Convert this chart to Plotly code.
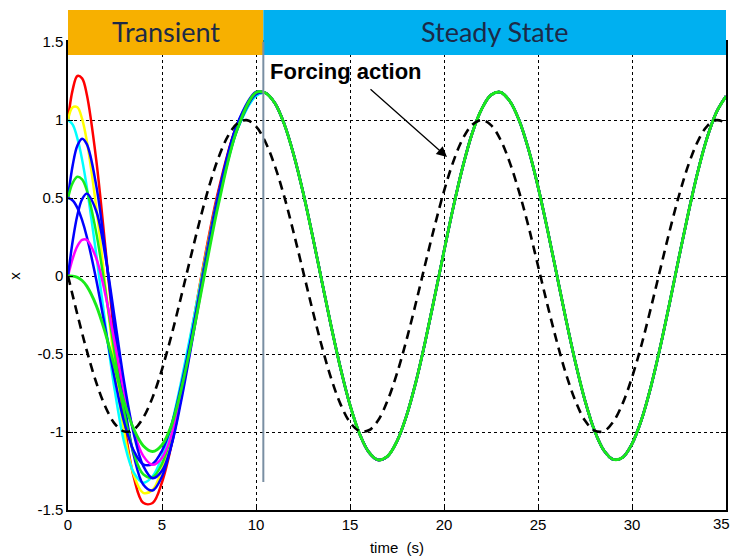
import plotly.graph_objects as go

# ---------------- data ----------------
# transient window, shared time base (s)
T_TR = [0, 0.25, 0.5, 0.75, 1, 1.5, 2, 2.5, 3, 3.5, 4, 4.5, 5, 5.5, 6, 6.5, 7, 7.5, 8, 9, 10]

# responses for different initial conditions (x0, v0)
X_RED     = [1.000, 1.195, 1.282, 1.267, 1.163, 0.746, 0.169, -0.433, -0.949, -1.290, -1.454, -1.455, -1.322, -1.085, -0.762, -0.412, -0.063, 0.261, 0.547, 0.969, 1.158]
X_YELLOW  = [1.000, 1.082, 1.082, 1.007, 0.866, 0.443, -0.076, -0.588, -1.010, -1.276, -1.390, -1.370, -1.239, -1.022, -0.725, -0.400, -0.071, 0.241, 0.523, 0.953, 1.156]
X_CYAN    = [1.000, 0.970, 0.882, 0.746, 0.570, 0.141, -0.321, -0.743, -1.072, -1.261, -1.325, -1.284, -1.157, -0.958, -0.687, -0.388, -0.079, 0.221, 0.498, 0.936, 1.154]
X_BLUE_A  = [0.500, 0.710, 0.836, 0.880, 0.845, 0.581, 0.143, -0.358, -0.820, -1.151, -1.336, -1.375, -1.285, -1.085, -0.788, -0.450, -0.102, 0.230, 0.527, 0.971, 1.169]
X_GREEN_A = [0.500, 0.597, 0.636, 0.619, 0.549, 0.279, -0.102, -0.513, -0.882, -1.136, -1.271, -1.290, -1.203, -1.022, -0.750, -0.438, -0.110, 0.210, 0.503, 0.955, 1.167]
X_BLUE_B  = [0.500, 0.484, 0.437, 0.358, 0.252, -0.023, -0.346, -0.668, -0.944, -1.121, -1.207, -1.204, -1.120, -0.958, -0.713, -0.426, -0.118, 0.190, 0.479, 0.938, 1.165]
X_MAGENTA = [0.000, 0.112, 0.191, 0.231, 0.232, 0.115, -0.127, -0.438, -0.753, -0.997, -1.153, -1.210, -1.166, -1.022, -0.776, -0.475, -0.148, 0.179, 0.483, 0.957, 1.178]
X_BLUE_C  = [0.000, 0.224, 0.391, 0.492, 0.528, 0.417, 0.117, -0.283, -0.691, -1.012, -1.217, -1.296, -1.248, -1.085, -0.813, -0.487, -0.140, 0.199, 0.508, 0.973, 1.180]
X_GREEN_0 = [0.000, -0.001, -0.009, -0.029, -0.065, -0.188, -0.372, -0.593, -0.815, -0.982, -1.088, -1.125, -1.083, -0.958, -0.738, -0.463, -0.156, 0.159, 0.459, 0.940, 1.176]

# steady-state part, common to all responses
T_SS = [10.5, 11, 11.5, 12, 12.5, 13, 13.5, 14, 14.5, 15, 15.5, 16, 16.5, 17, 17.5, 18, 18.5, 19, 19.5, 20,
        20.5, 21, 21.5, 22, 22.5, 23, 23.5, 24, 24.5, 25, 25.5, 26, 26.5, 27, 27.5, 28, 28.5, 29, 29.5, 30,
        30.5, 31, 31.5, 32, 32.5, 33, 33.5, 34, 34.5, 35]
X_SS = [1.174, 1.109, 0.975, 0.780, 0.538, 0.261, -0.032, -0.323, -0.593, -0.827,
        -1.009, -1.129, -1.179, -1.155, -1.059, -0.898, -0.682, -0.421, -0.135, 0.159,
        0.444, 0.701, 0.915, 1.069, 1.160, 1.178, 1.121, 0.997, 0.810, 0.573,
        0.299, 0.008, -0.285, -0.559, -0.799, -0.989, -1.117, -1.176, -1.163, -1.076,
        -0.923, -0.712, -0.457, -0.174, 0.120, 0.406, 0.668, 0.888, 1.052, 1.152]

# forcing action
T_F = [i * 0.5 for i in range(71)]
X_F = [0, -0.247, -0.479, -0.682, -0.841, -0.949, -0.997, -0.984, -0.909, -0.778,
       -0.598, -0.382, -0.141, 0.108, 0.351, 0.572, 0.757, 0.895, 0.978, 0.999,
       0.959, 0.859, 0.706, 0.510, 0.279, 0.033, -0.215, -0.450, -0.657, -0.823,
       -0.938, -0.994, -0.989, -0.925, -0.798, -0.624, -0.412, -0.175, 0.075, 0.319,
       0.544, 0.735, 0.880, 0.970, 1.000, 0.967, 0.875, 0.727, 0.537, 0.315,
       0.066, -0.184, -0.420, -0.632, -0.804, -0.927, -0.991, -0.995, -0.935, -0.818,
       -0.650, -0.444, -0.207, 0.041, 0.288, 0.516, 0.712, 0.863, 0.961, 0.999, 0.980]

X_TICKS = [0, 5, 10, 15, 20, 25, 30, 35]
Y_TICKS = [-1.5, -1, -0.5, 0, 0.5, 1, 1.5]
Y_TICK_TEXT = ["-1.5", "-1", "-0.5", "0", "0.5", "1", "1.5"]

T_SPLIT = 10.39  # transient / steady-state boundary

# ---------------- figure ----------------
GREEN = "rgb(26,235,26)"
series = [
    (X_RED, "rgb(255,0,0)", 2.5),
    (X_YELLOW, "rgb(255,255,0)", 2.5),
    (X_CYAN, "rgb(0,255,255)", 2.5),
    (X_BLUE_A, "rgb(0,0,255)", 2.5),
    (X_GREEN_A, GREEN, 2.5),
    (X_BLUE_B, "rgb(0,0,255)", 2.5),
    (X_MAGENTA, "rgb(255,0,255)", 2.5),
    (X_BLUE_C, "rgb(0,0,255)", 2.5),
    (X_GREEN_0, GREEN, 2.9),
]

fig = go.Figure()
for values, color, lw in series:
    fig.add_trace(go.Scatter(
        x=T_TR + T_SS, y=values + X_SS, mode="lines",
        line=dict(color=color, width=lw, shape="spline", smoothing=1.0),
        showlegend=False, hoverinfo="skip"))

fig.add_trace(go.Scatter(
    x=T_F, y=X_F, mode="lines",
    line=dict(color="black", width=2.6, dash="9px,6px", shape="spline", smoothing=1.0),
    showlegend=False, hoverinfo="skip"))

tick_font = dict(family="Liberation Sans, Arial", size=15, color="black")
axis_common = dict(
    showline=True, linecolor="black", linewidth=1.5, mirror="ticks",
    ticks="inside", ticklen=5, tickcolor="black", tickwidth=1,
    showgrid=True, gridcolor="black", gridwidth=1, griddash="dot",
    zeroline=False, automargin=False, tickfont=tick_font,
)

# the last x label sits at the very edge of the page; it is placed by hand below
x_tick_text = [str(v) for v in X_TICKS[:-1]] + [""]
fig.update_xaxes(range=[0, 35], tickvals=X_TICKS, ticktext=x_tick_text,
                 title=dict(text="time\u00a0\u00a0(s)", font=tick_font, standoff=11),
                 **axis_common)
fig.update_yaxes(range=[-1.5, 1.5], tickvals=Y_TICKS, ticktext=Y_TICK_TEXT,
                 title=dict(text="x", font=tick_font, standoff=13),
                 **axis_common)

split_paper = T_SPLIT / 35.0
bar_y0, bar_y1 = 0.9722, 1.0684
shapes = [
    dict(type="rect", xref="paper", yref="paper", x0=0, x1=split_paper, y0=bar_y0, y1=bar_y1,
         fillcolor="#F7B000", line=dict(width=0), layer="above"),
    dict(type="rect", xref="paper", yref="paper", x0=split_paper, x1=1.0, y0=bar_y0, y1=bar_y1,
         fillcolor="#00B0F0", line=dict(width=0), layer="above"),
    dict(type="line", xref="x", yref="y", x0=T_SPLIT, x1=T_SPLIT, y0=-1.32, y1=1.5,
         line=dict(color="#7A8FA3", width=2), layer="above"),
]

bar_font = dict(family="Lato, Open Sans, sans-serif", size=27, color="#1C2A48")
annotations = [
    dict(xref="paper", yref="paper", x=split_paper / 2, y=1.0214, text="Transient",
         showarrow=False, font=bar_font, xanchor="center", yanchor="middle"),
    dict(xref="paper", yref="paper", x=(split_paper + 1) / 2, y=1.0214, text="Steady State",
         showarrow=False, font=bar_font, xanchor="center", yanchor="middle"),
    dict(xref="x", yref="y", x=10.64, y=1.314, text="<b>Forcing action</b>", showarrow=False,
         font=dict(family="Liberation Sans, Arial", size=22, color="black"),
         xanchor="left", yanchor="middle"),
    dict(xref="x", yref="y", x=20.16, y=0.763, text="", showarrow=True,
         ax=-78, ay=-69, axref="pixel", ayref="pixel",
         arrowhead=2, arrowsize=1.6, arrowwidth=1.3, arrowcolor="black"),
    dict(xref="x", yref="paper", x=X_TICKS[-1], y=-0.0299, text=str(X_TICKS[-1]),
         showarrow=False, font=tick_font, xanchor="center", yanchor="middle", xshift=-5),
]

fig.update_layout(
    width=732, height=558,
    margin=dict(l=68, r=6, t=42, b=48),
    paper_bgcolor="white", plot_bgcolor="white",
    shapes=shapes, annotations=annotations,
    showlegend=False,
)

fig.write_html("out.html")
